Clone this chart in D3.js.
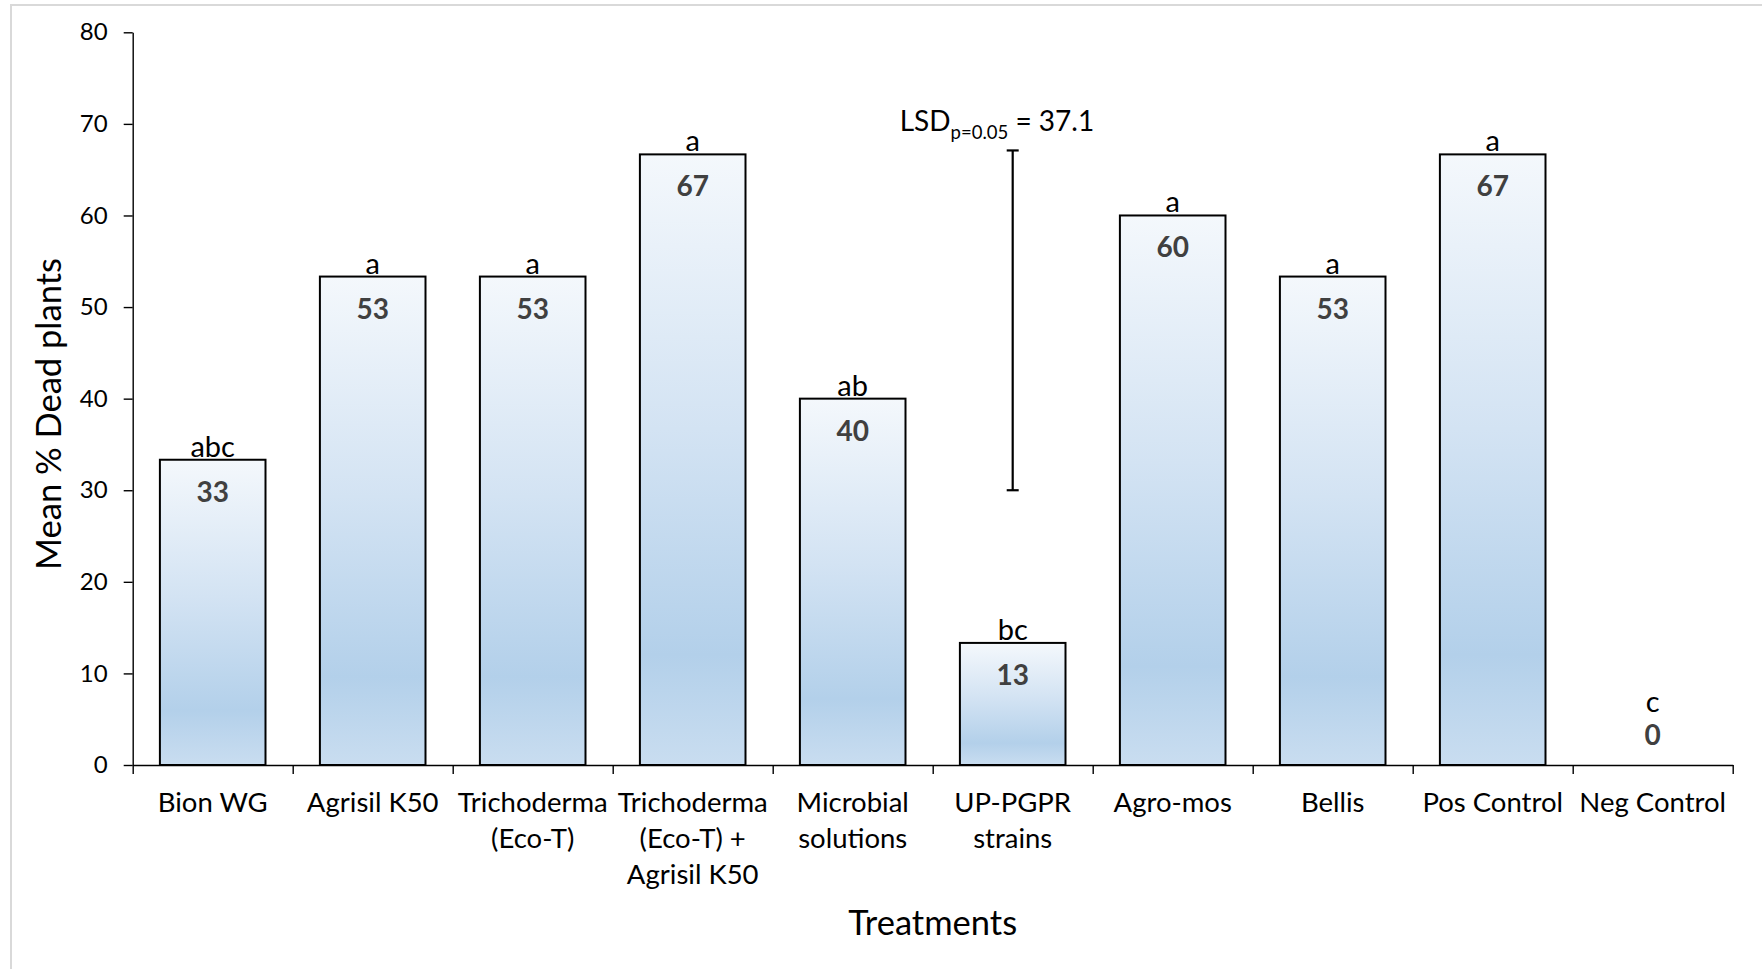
<!DOCTYPE html>
<html>
<head>
<meta charset="utf-8">
<script src="https://cdn.jsdelivr.net/npm/d3@7"></script>
<style>
  html, body { margin: 0; padding: 0; background: #fff; }
  svg { display: block; font-family: Lato, "Open Sans", sans-serif; }
</style>
</head>
<body>
<svg id="chart" width="1762" height="969"></svg>
<script>
const categories = ["Bion WG", "Agrisil K50", "Trichoderma\n(Eco-T)", "Trichoderma\n(Eco-T) +\nAgrisil K50",
  "Microbial\nsolutions", "UP-PGPR\nstrains", "Agro-mos", "Bellis", "Pos Control", "Neg Control"];
const values = [33.33, 53.33, 53.33, 66.67, 40, 13.33, 60, 53.33, 66.67, 0];
const letters = ["abc", "a", "a", "a", "ab", "bc", "a", "a", "a", "c"];
const yTicks = [0, 10, 20, 30, 40, 50, 60, 70, 80];
const lsdValue = 37.1;
const lsdBase = 30;
const lsdCategory = "UP-PGPR\nstrains";

const svg = d3.select("#chart");

// outer frame (top and left edges visible)
svg.append("path")
  .attr("d", "M11,1000 L11,5 L1800,5")
  .attr("fill", "none").attr("stroke", "#d9d9d9").attr("stroke-width", 2);

const x = d3.scaleBand().domain(categories).range([132.7, 1732.7])
  .paddingInner(0.34).paddingOuter(0.17);
const xi = d3.scaleLinear().domain([0, categories.length]).range(x.range());
const y = d3.scaleLinear().domain([0, 80]).range([765, 32.3]);

// gradient
const defs = svg.append("defs");
const grad = defs.append("linearGradient").attr("id", "barGrad")
  .attr("x1", 0).attr("y1", 0).attr("x2", 0).attr("y2", 1);
[[0, "#f4f8fc"], [0.45, "#d3e3f3"], [0.82, "#b3d0ea"], [1, "#c9ddf0"]].forEach(([o, c]) =>
  grad.append("stop").attr("offset", o).attr("stop-color", c));

// bars
svg.append("g").selectAll("rect").data(categories.map((c, i) => ({c, v: values[i]})).filter(d => d.v > 0))
  .join("rect")
  .attr("x", d => x(d.c))
  .attr("y", d => y(d.v))
  .attr("width", x.bandwidth())
  .attr("height", d => y(0) - y(d.v))
  .attr("fill", "url(#barGrad)")
  .attr("stroke", "#000")
  .attr("stroke-width", 2);

// y axis
const yAxis = svg.append("g").attr("transform", `translate(${x.range()[0]},0)`)
  .call(d3.axisLeft(y).tickValues(yTicks).tickSize(9).tickSizeOuter(0).tickPadding(16));
yAxis.selectAll("text").attr("font-size", 24).attr("fill", "#000").attr("font-family", "Lato");
yAxis.selectAll("line, path").attr("stroke", "#000").attr("stroke-width", 1.4);

// x axis with boundary ticks
const xAxis = svg.append("g").attr("transform", `translate(0,${y(0)})`)
  .call(d3.axisBottom(xi).tickValues(d3.range(categories.length + 1)).tickFormat("").tickSize(9).tickSizeOuter(0));
xAxis.selectAll("line, path").attr("stroke", "#000").attr("stroke-width", 1.4);

// category labels
const lab = svg.append("g").selectAll("text").data(categories).join("text")
  .attr("text-anchor", "middle")
  .attr("font-size", 27.5)
  .attr("fill", "#000")
  .attr("transform", d => `translate(${x(d) + x.bandwidth() / 2},811.5)`);
lab.selectAll("tspan").data(d => d.split("\n")).join("tspan")
  .attr("x", 0).attr("y", (d, i) => i * 36).text(d => d);

// value and letter labels
categories.forEach((c, i) => {
  const v = values[i];
  const cx = x(c) + x.bandwidth() / 2;
  const top = y(v);
  let valBase, letBase;
  if (y(0) - top < 50) { valBase = y(0) - 20; letBase = valBase - 33; }
  else { valBase = top + 42; letBase = top - 3; }
  svg.append("text").attr("x", cx).attr("y", valBase).attr("text-anchor", "middle")
    .attr("font-size", 28).attr("font-weight", "bold").attr("fill", "#404040")
    .text(d3.format(".0f")(v));
  svg.append("text").attr("x", cx).attr("y", letBase).attr("text-anchor", "middle")
    .attr("font-size", 29).attr("fill", "#000")
    .text(letters[i]);
});

// LSD bar
const lx = x(lsdCategory) + x.bandwidth() / 2;
const lsdG = svg.append("g").attr("stroke", "#000").attr("stroke-width", 2.2);
lsdG.append("line").attr("x1", lx).attr("x2", lx).attr("y1", y(lsdBase)).attr("y2", y(lsdBase + lsdValue));
lsdG.append("line").attr("x1", lx - 6).attr("x2", lx + 6).attr("y1", y(lsdBase)).attr("y2", y(lsdBase));
lsdG.append("line").attr("x1", lx - 6).attr("x2", lx + 6).attr("y1", y(lsdBase + lsdValue)).attr("y2", y(lsdBase + lsdValue));
const lt = svg.append("text").attr("x", lx - 113).attr("y", y(lsdBase + lsdValue) - 19)
  .attr("font-size", 28).attr("fill", "#000");
lt.append("tspan").text("LSD");
lt.append("tspan").attr("font-size", 18.5).attr("dy", 8).text("p=0.05");
lt.append("tspan").attr("dy", -8).text(" = " + lsdValue);

// axis titles
svg.append("text").attr("x", (x.range()[0] + x.range()[1]) / 2).attr("y", 935)
  .attr("text-anchor", "middle").attr("font-size", 34.5).attr("fill", "#000").text("Treatments");
svg.append("text").attr("transform", `translate(61,414) rotate(-90)`)
  .attr("text-anchor", "middle").attr("font-size", 34.5).attr("fill", "#000").text("Mean % Dead plants");
</script>
</body>
</html>
